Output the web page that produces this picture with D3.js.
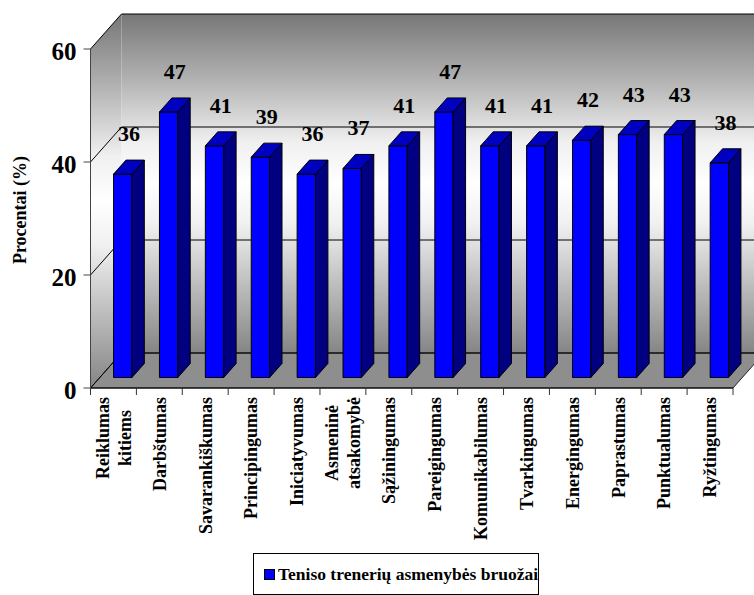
<!DOCTYPE html>
<html>
<head>
<meta charset="utf-8">
<script src="https://cdn.jsdelivr.net/npm/d3@7"></script>
<style>
  body { margin: 0; background: #fff; }
</style>
</head>
<body>
<div id="chart"></div>
<script>
  // data
  var categories = ["Reiklumas\nkitiems", "Darbštumas", "Savarankiškumas", "Principingumas",
    "Iniciatyvumas", "Asmeninė\natsakomybė", "Sąžiningumas", "Pareigingumas",
    "Komunikabilumas", "Tvarkingumas", "Energingumas", "Paprastumas", "Punktualumas", "Ryžtingumas"];
  var values = [36, 47, 41, 39, 36, 37, 41, 47, 41, 41, 42, 43, 43, 38];
  var yTicks = [0, 20, 40, 60];
  var seriesName = "Teniso trenerių asmenybės bruožai";
  var yTitle = "Procentai (%)";

  var width = 754, height = 595;
  var font = "'Liberation Serif', 'DejaVu Serif', serif";

  var svg = d3.select("#chart").append("svg")
      .attr("width", width)
      .attr("height", height)
      .attr("font-family", font)
      .attr("font-weight", "bold");

  // front plane scales + depth vector of the 3d box
  var x = d3.scaleBand().domain(d3.range(categories.length)).range([90.5, 733]);
  var y = d3.scaleLinear().domain([0, 60]).range([388, 49]);
  var depth = {x: 31, y: -35};
  var x0 = x.range()[0], x1 = x.range()[1];

  function P(px, v, t) { return [px + t * depth.x, y(v) + t * depth.y]; }
  function poly(pts) { return "M" + pts.map(function(p) { return p.join(","); }).join("L") + "Z"; }

  // wall gradient
  var defs = svg.append("defs");
  var grad = defs.append("linearGradient").attr("id", "wall")
      .attr("x1", 0).attr("y1", 0).attr("x2", 0).attr("y2", 1);
  [[0, "#777"], [0.2, "#b4b4b4"], [0.38, "#f0f0f0"], [0.5, "#fff"], [0.62, "#f0f0f0"], [0.8, "#bdbdbd"], [1, "#858585"]]
    .forEach(function(s) { grad.append("stop").attr("offset", s[0]).attr("stop-color", s[1]); });

  var ymax = y.domain()[1];
  // back wall
  svg.append("path")
      .attr("d", poly([P(x0, 0, 1), P(x1, 0, 1), P(x1, ymax, 1), P(x0, ymax, 1)]))
      .attr("fill", "url(#wall)");
  // side wall
  svg.append("path")
      .attr("d", poly([P(x0, 0, 0), P(x0, 0, 1), P(x0, ymax, 1), P(x0, ymax, 0)]))
      .attr("fill", "url(#wall)");
  // floor
  svg.append("path")
      .attr("d", poly([P(x0, 0, 0), P(x1, 0, 0), P(x1, 0, 1), P(x0, 0, 1)]))
      .attr("fill", "#8e8e8e")
      .attr("stroke", "#222");

  // gridlines on side and back wall
  svg.append("g").selectAll("path")
    .data(yTicks)
    .enter().append("path")
      .attr("d", function(v) { return "M" + [P(x0, v, 0), P(x0, v, 1), P(x1, v, 1)].map(function(p) { return p.join(","); }).join("L"); })
      .attr("fill", "none")
      .attr("stroke", "#000")
      .attr("stroke-width", 1);

  // bars
  var hw = x.bandwidth() * 0.2, t0 = 0.3, t1 = 0.7;
  var bar = svg.append("g").selectAll("g")
    .data(values)
    .enter().append("g");
  function cx(i) { return x(i) + x.bandwidth() / 2; }
  bar.append("path")
      .attr("d", function(v, i) { return poly([P(cx(i) - hw, 0, t0), P(cx(i) + hw, 0, t0), P(cx(i) + hw, v, t0), P(cx(i) - hw, v, t0)]); })
      .attr("fill", "#0000ff").attr("stroke", "#000");
  bar.append("path")
      .attr("d", function(v, i) { return poly([P(cx(i) + hw, 0, t0), P(cx(i) + hw, 0, t1), P(cx(i) + hw, v, t1), P(cx(i) + hw, v, t0)]); })
      .attr("fill", "#000080").attr("stroke", "#000");
  bar.append("path")
      .attr("d", function(v, i) { return poly([P(cx(i) - hw, v, t0), P(cx(i) + hw, v, t0), P(cx(i) + hw, v, t1), P(cx(i) - hw, v, t1)]); })
      .attr("fill", "#0000c0").attr("stroke", "#000");

  // value labels
  svg.append("g").selectAll("text")
    .data(values)
    .enter().append("text")
      .attr("x", function(v, i) { return cx(i) + 0.5 * depth.x; })
      .attr("y", function(v, i) { return P(0, v, t1)[1] - 19; })
      .attr("text-anchor", "middle")
      .attr("font-size", 22)
      .text(function(v) { return v; });

  // x axis line + ticks
  svg.append("line")
      .attr("x1", x0).attr("x2", x1).attr("y1", y(0)).attr("y2", y(0))
      .attr("stroke", "#000");
  svg.append("g").selectAll("line")
    .data(d3.range(categories.length + 1))
    .enter().append("line")
      .attr("x1", function(i) { return x0 + i * x.step(); })
      .attr("x2", function(i) { return x0 + i * x.step(); })
      .attr("y1", y(0)).attr("y2", y(0) + 7)
      .attr("stroke", "#333");

  // y axis
  svg.append("line")
      .attr("x1", x0).attr("x2", x0).attr("y1", y(0)).attr("y2", y(ymax))
      .attr("stroke", "#444");
  var yt = svg.append("g").selectAll("g")
    .data(yTicks)
    .enter().append("g");
  yt.append("line")
      .attr("x1", x0 - 7).attr("x2", x0)
      .attr("y1", function(v) { return y(v); }).attr("y2", function(v) { return y(v); })
      .attr("stroke", "#444");
  yt.append("text")
      .attr("x", x0 - 14)
      .attr("y", function(v) { return y(v) + 11; })
      .attr("text-anchor", "end")
      .attr("font-size", 25)
      .text(function(v) { return v; });

  // y title
  svg.append("text")
      .attr("transform", "translate(26,210) rotate(-90)")
      .attr("text-anchor", "middle")
      .attr("font-size", 18)
      .text(yTitle);

  // category labels, rotated, top aligned
  var lineH = 22;
  svg.append("g").selectAll("g")
    .data(categories)
    .enter().append("g")
      .attr("transform", function(c, i) { return "translate(" + cx(i) + "," + (y(0) + 9) + ") rotate(-90)"; })
      .each(function(c) {
        var g = d3.select(this);
        var lines = c.split("\n");
        var ts = lines.map(function(l, k) {
          return g.append("text")
            .attr("y", (k - (lines.length - 1) / 2) * lineH)
            .attr("dy", "0.35em")
            .attr("font-size", 18)
            .text(l);
        });
        var L = d3.max(ts, function(t) { return t.node().getComputedTextLength(); });
        ts.forEach(function(t) { t.attr("x", -L / 2).attr("text-anchor", "middle"); });
      });

  // legend
  var lg = svg.append("g");
  lg.append("rect")
      .attr("x", 253.5).attr("y", 553.5).attr("width", 285).attr("height", 41)
      .attr("fill", "#fff").attr("stroke", "#000");
  lg.append("rect")
      .attr("x", 264.5).attr("y", 569.5).attr("width", 10).attr("height", 10)
      .attr("fill", "#0000ff").attr("stroke", "#000");
  lg.append("text")
      .attr("x", 278).attr("y", 580)
      .attr("font-size", 17.5)
      .text(seriesName);
</script>
</body>
</html>
